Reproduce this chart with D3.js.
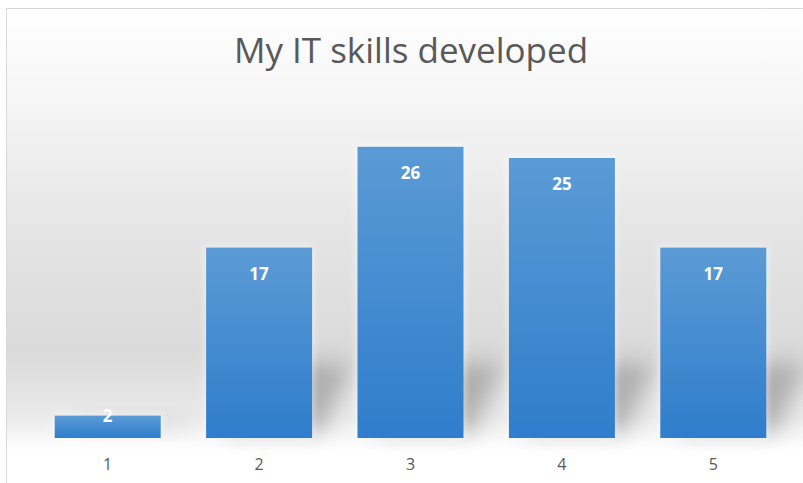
<!DOCTYPE html>
<html>
<head>
<meta charset="utf-8">
<script src="https://cdn.jsdelivr.net/npm/d3@7"></script>
<style>
  body { margin: 0; background: #fff; }
  svg { display: block; }
</style>
</head>
<body>
<figure id="skills" style="margin:0"></figure>
<script>
// chart data
var categories = ["1", "2", "3", "4", "5"];
var values = [2, 17, 26, 25, 17];
var title = "My IT skills developed";

var W = 803, H = 483;
var margin = {top: 8, right: 0, bottom: 45, left: 6};

var svg = d3.select("figure#skills")
  .append("svg")
    .attr("width", W)
    .attr("height", H);

var defs = svg.append("defs");

// background gradient: white top, grey band, white again near axis
var bg = defs.append("linearGradient")
  .attr("id", "bgGrad")
  .attr("x1", 0).attr("y1", 0).attr("x2", 0).attr("y2", 1);
[[0, "#ffffff"], [0.2, "#f5f5f5"], [0.5, "#e3e3e3"], [0.72, "#dadada"], [0.86, "#eaeaea"], [0.93, "#ffffff"], [1, "#ffffff"]]
  .forEach(function(s) { bg.append("stop").attr("offset", s[0]).attr("stop-color", s[1]); });

var barGrad = defs.append("linearGradient")
  .attr("id", "barGrad")
  .attr("x1", 0).attr("y1", 0).attr("x2", 0).attr("y2", 1);
barGrad.append("stop").attr("offset", 0).attr("stop-color", "#5b9bd5");
barGrad.append("stop").attr("offset", 1).attr("stop-color", "#2f7dcc");

var blur = defs.append("filter").attr("id", "shadowBlur")
  .attr("x", "-50%").attr("y", "-50%").attr("width", "200%").attr("height", "200%");
blur.append("feGaussianBlur").attr("stdDeviation", 11);

var glow = defs.append("filter").attr("id", "glow")
  .attr("x", "-20%").attr("y", "-20%").attr("width", "140%").attr("height", "140%");
glow.append("feGaussianBlur").attr("stdDeviation", 3);

// chart area with border
svg.append("rect")
  .attr("x", margin.left + 0.5)
  .attr("y", margin.top + 0.5)
  .attr("width", W - margin.left)
  .attr("height", H - margin.top)
  .attr("fill", "url(#bgGrad)")
  .attr("stroke", "#d9d9d9");

svg.append("text")
  .attr("x", 411)
  .attr("y", 63)
  .attr("text-anchor", "middle")
  .style("font-family", "'Open Sans', sans-serif")
  .style("font-size", "35px")
  .style("fill", "#595959")
  .text(title);

var x = d3.scaleBand()
  .domain(categories)
  .range([32, 789])
  .paddingInner(0.3)
  .paddingOuter(0.15);

var y = d3.scaleLinear()
  .domain([0, 30])
  .range([438, 102]);

var bars = svg.append("g")
  .selectAll("g")
  .data(values)
  .enter()
  .append("g");

// soft shadow cast behind each bar
bars.append("path")
  .attr("d", function(d, i) {
    var x0 = x(categories[i]), x1 = x0 + x.bandwidth(), b = y(0);
    var t = Math.max(y(d), b - 75);
    return "M" + (x0 + 15) + "," + (b - 6) +
      "L" + (x0 + 45) + "," + t +
      "L" + (x1 + 40) + "," + t +
      "L" + (x1 + 10) + "," + (b - 6) + "Z";
  })
  .attr("fill", "#8c8c8c")
  .attr("opacity", function(d) { return d > 5 ? 0.6 : 0.15; })
  .attr("filter", "url(#shadowBlur)");

// faint white glow round the bars
bars.append("rect")
  .attr("x", function(d, i) { return x(categories[i]) - 2; })
  .attr("y", function(d) { return y(d) - 2; })
  .attr("width", x.bandwidth() + 4)
  .attr("height", function(d) { return y(0) - y(d) + 4; })
  .attr("fill", "#ffffff")
  .attr("opacity", 0.45)
  .attr("filter", "url(#glow)");

bars.append("rect")
  .attr("x", function(d, i) { return x(categories[i]); })
  .attr("y", function(d) { return y(d); })
  .attr("width", x.bandwidth())
  .attr("height", function(d) { return y(0) - y(d); })
  .attr("fill", "url(#barGrad)");

bars.append("text")
  .attr("x", function(d, i) { return x(categories[i]) + x.bandwidth() / 2; })
  .attr("y", function(d) { return y(0) - y(d) > 40 ? y(d) + 32 : y(d) + 6; })
  .attr("text-anchor", "middle")
  .style("font-family", "'Open Sans', sans-serif")
  .style("font-weight", "bold")
  .style("font-size", "17px")
  .style("fill", "#ffffff")
  .text(function(d) { return d; });

// category axis (labels only)
var xAxis = svg.append("g")
  .attr("transform", "translate(0," + y(0) + ")")
  .call(d3.axisBottom(x).tickSize(0).tickPadding(21));
xAxis.select(".domain").remove();
xAxis.selectAll("text")
  .style("font-family", "'Open Sans', sans-serif")
  .style("font-size", "16px")
  .style("fill", "#595959");
</script>
</body>
</html>
